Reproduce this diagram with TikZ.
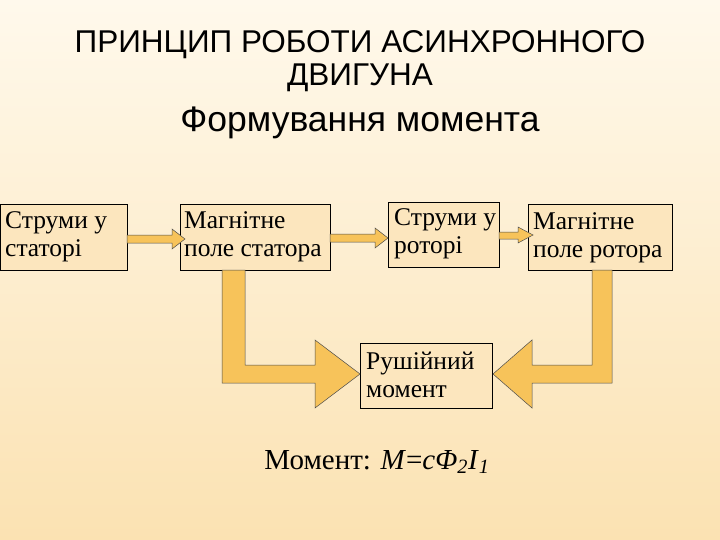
\documentclass[tikz,border=0pt]{standalone}
\usepackage{fontspec}
\setmainfont{Liberation Serif}
\newfontfamily\sansf{Liberation Sans}
\begin{document}
\begin{tikzpicture}[x=1pt,y=-1pt,
  box/.style={draw=black,line width=0.6pt,fill=boxc,anchor=north west,inner sep=0pt},
  lbl/.style={anchor=west,align=left,inner sep=0pt,font=\fontsize{25.5}{28}\selectfont},
  arr/.style={draw=black!70,line width=0.5pt,fill=arrc,line join=miter}]
\definecolor{boxc}{HTML}{FCE6BE}
\definecolor{arrc}{HTML}{F7C35A}
\definecolor{bgt}{HTML}{FFF9EC}
\definecolor{bgb}{HTML}{FBE2B2}
\shade[top color=bgt,bottom color=bgb] (0,0) rectangle (720,540);
\useasboundingbox (0,0) rectangle (720,540);
% titles
\node (t1) at (360,45) {\sansf\fontsize{31.5}{33}\selectfont ПРИНЦИП РОБОТИ АСИНХРОННОГО};
\node (t2) at (360,78) {\sansf\fontsize{31.5}{33}\selectfont ДВИГУНА};
\node (t3) at (360,123) {\sansf\fontsize{35.5}{37}\selectfont Формування момента};
% boxes
\node[box,minimum width=127pt,minimum height=66pt] (b1) at (0,204) {};
\node[lbl] (l1) at (5,237) {Струми у\\статорі};
\node[box,minimum width=150pt,minimum height=66pt] (b2) at (180,204) {};
\node[lbl] (l2) at (184,237) {Магнітне\\поле статора};
\node[box,minimum width=111pt,minimum height=65pt] (b3) at (388,202) {};
\node[lbl] (l3) at (394,234) {Струми у\\роторі};
\node[box,minimum width=144pt,minimum height=66pt] (b4) at (528,204) {};
\node[lbl] (l4) at (533,238) {Магнітне\\поле ротора};
\node[box,minimum width=132pt,minimum height=65pt] (b5) at (360,343) {};
\node[lbl] (l5) at (366,375) {Рушійний\\момент};
% small arrows
\draw[arr] (127,235) -- (172,235) -- (172,229) -- (185,239) -- (172,249) -- (172,243) -- (127,243) -- cycle;
\draw[arr] (330,234) -- (375,234) -- (375,228) -- (388,238) -- (375,248) -- (375,242) -- (330,242) -- cycle;
\draw[arr] (499,232) -- (518,232) -- (518,227) -- (533,235) -- (518,243) -- (518,239) -- (499,239) -- cycle;
% big arrows
\draw[arr] (222,270) -- (245,270) -- (245,365) -- (315,365) -- (315,340) -- (360,374) -- (315,408) -- (315,383) -- (222,383) -- cycle;
\draw[arr] (612,270) -- (592,270) -- (592,365) -- (532,365) -- (532,340) -- (493,374) -- (532,408) -- (532,383) -- (612,383) -- cycle;
% formula
\node (f) at (377,462) {\fontsize{29}{31}\selectfont Момент: \textit{M}=\textit{cΦ}\textsubscript{\textit{2}}\textit{I}\textsubscript{\textit{1}}};
\end{tikzpicture}
\end{document}
